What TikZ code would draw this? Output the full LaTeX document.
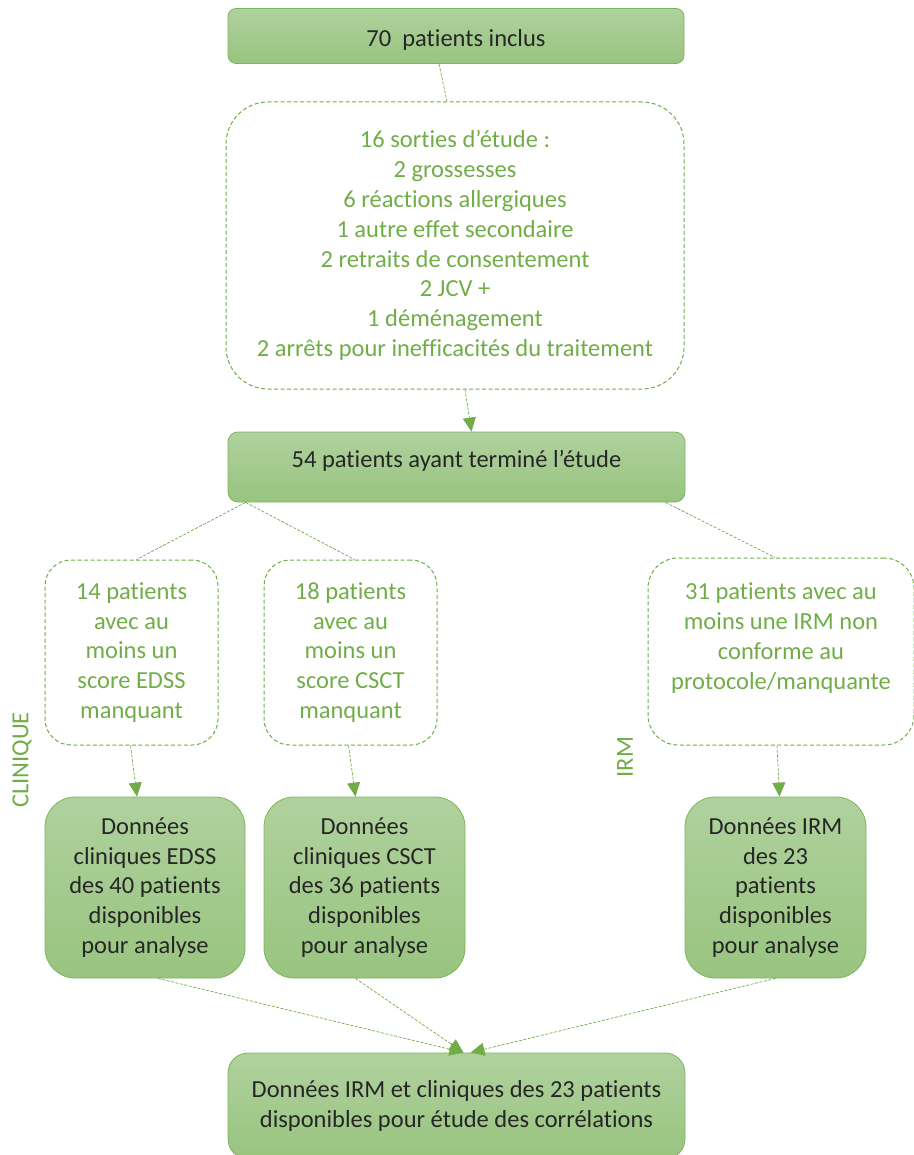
\documentclass[tikz,border=0pt]{standalone}
\usepackage{fontspec}
\setmainfont{Carlito}[Ligatures=NoCommon]
\usetikzlibrary{arrows.meta}
\definecolor{leaf}{HTML}{70AD47}
\definecolor{boxtop}{HTML}{B0D19E}
\definecolor{boxbot}{HTML}{98C47F}
\definecolor{boxline}{HTML}{7DB55F}
\definecolor{textdark}{HTML}{262626}
\tikzset{
  solidbox/.style={draw=boxline, line width=0.8pt, top color=boxtop, bottom color=boxbot, text=textdark, align=center, inner sep=2pt},
  exitbox/.style={draw=leaf, line width=1pt, dash pattern=on 4pt off 2.5pt, text=leaf, align=center, inner sep=2pt},
  link/.style={draw=leaf, line width=0.7pt, dash pattern=on 3pt off 1.5pt},
  flow/.style={link, -{Triangle[length=14pt,width=13pt]}},
  sidelabel/.style={text=leaf, rotate=90},
}
\begin{document}
\begin{tikzpicture}[x=1pt, y=-1pt, font=\fontsize{24.5}{29.8}\selectfont]
    \useasboundingbox (0, 0) rectangle (913, 1155) ;
    \node[solidbox, rounded corners=8pt, minimum width=456pt, minimum height=55pt] (n70) at (456, 36) {\strut\\[-26pt]70\ \ patients inclus} ;
    \node[exitbox, rounded corners=42pt, minimum width=458pt, minimum height=287pt] (exits) at (455, 245.5)
      {16 sorties d’étude :\\ 2 grossesses\\ 6 réactions allergiques\\ 1 autre effet secondaire\\ 2 retraits de consentement\\ 2 JCV +\\ 1 déménagement\\ 2 arrêts pour inefficacités du traitement} ;
    \node[solidbox, rounded corners=10pt, minimum width=457pt, minimum height=70pt] (n54) at (456.5, 467) {54 patients ayant terminé l’étude\\[-22pt]\strut} ;
    \node[exitbox, rounded corners=26pt, minimum width=173pt, minimum height=185pt] (edssgap) at (131.5, 652.5)
      {14 patients\\ avec au\\ moins un\\ score EDSS\\ manquant} ;
    \node[exitbox, rounded corners=26pt, minimum width=173pt, minimum height=185pt] (csctgap) at (350.5, 652.5)
      {18 patients\\ avec au\\ moins un\\ score CSCT\\ manquant} ;
    \node[exitbox, rounded corners=30pt, minimum width=266pt, minimum height=187pt] (irmgap) at (781, 651.5)
      {31 patients avec au\\ moins une IRM non\\ conforme au\\ protocole/manquante\\[-8pt] \strut} ;
    \node[solidbox, rounded corners=30pt, minimum width=200pt, minimum height=181pt] (edss) at (145, 887.5)
      {Données\\ cliniques EDSS\\ des 40 patients\\ disponibles\\ pour analyse} ;
    \node[solidbox, rounded corners=30pt, minimum width=201pt, minimum height=181pt] (csct) at (364.5, 887.5)
      {Données\\ cliniques CSCT\\ des 36 patients\\ disponibles\\ pour analyse} ;
    \node[solidbox, rounded corners=30pt, minimum width=181pt, minimum height=181pt] (irm) at (775.5, 887.5)
      {Données IRM\\ des 23\\ patients\\ disponibles\\ pour analyse} ;
    \node[solidbox, rounded corners=20pt, minimum width=457pt, minimum height=106pt] (final) at (456.5, 1106)
      {Données IRM et cliniques des 23 patients\\ disponibles pour étude des corrélations} ;
    \node[sidelabel] (clin) at (22, 760) {CLINIQUE} ;
    \node[sidelabel] (irmside) at (625, 757) {IRM} ;
    \draw[link] ([xshift=-17pt]n70.south) -- ([xshift=-8pt]exits.north) ;
    \draw[flow] ([xshift=10pt]exits.south) -- ([xshift=15pt]n54.north) ;
    \draw[link] ([xshift=18pt]n54.south west) -- ([xshift=5pt]edssgap.north) ;
    \draw[link] ([xshift=18pt]n54.south west) -- ([xshift=4pt]csctgap.north) ;
    \draw[link] ([xshift=-20pt]n54.south east) -- ([xshift=-6pt]irmgap.north) ;
    \draw[flow] ([xshift=-1pt]edssgap.south) -- ([xshift=-8pt]edss.north) ;
    \draw[flow] ([xshift=-2pt]csctgap.south) -- ([xshift=-9pt]csct.north) ;
    \draw[flow] ([xshift=-4pt]irmgap.south) -- ([xshift=4pt]irm.north) ;
    \draw[flow] ([xshift=13pt]edss.south) -- ([xshift=7pt]final.north) ;
    \draw[flow] ([xshift=-9pt]csct.south) -- ([xshift=7pt]final.north) ;
    \draw[flow] (irm.south) -- ([xshift=14pt]final.north) ;
  \end{tikzpicture}
\end{document}
